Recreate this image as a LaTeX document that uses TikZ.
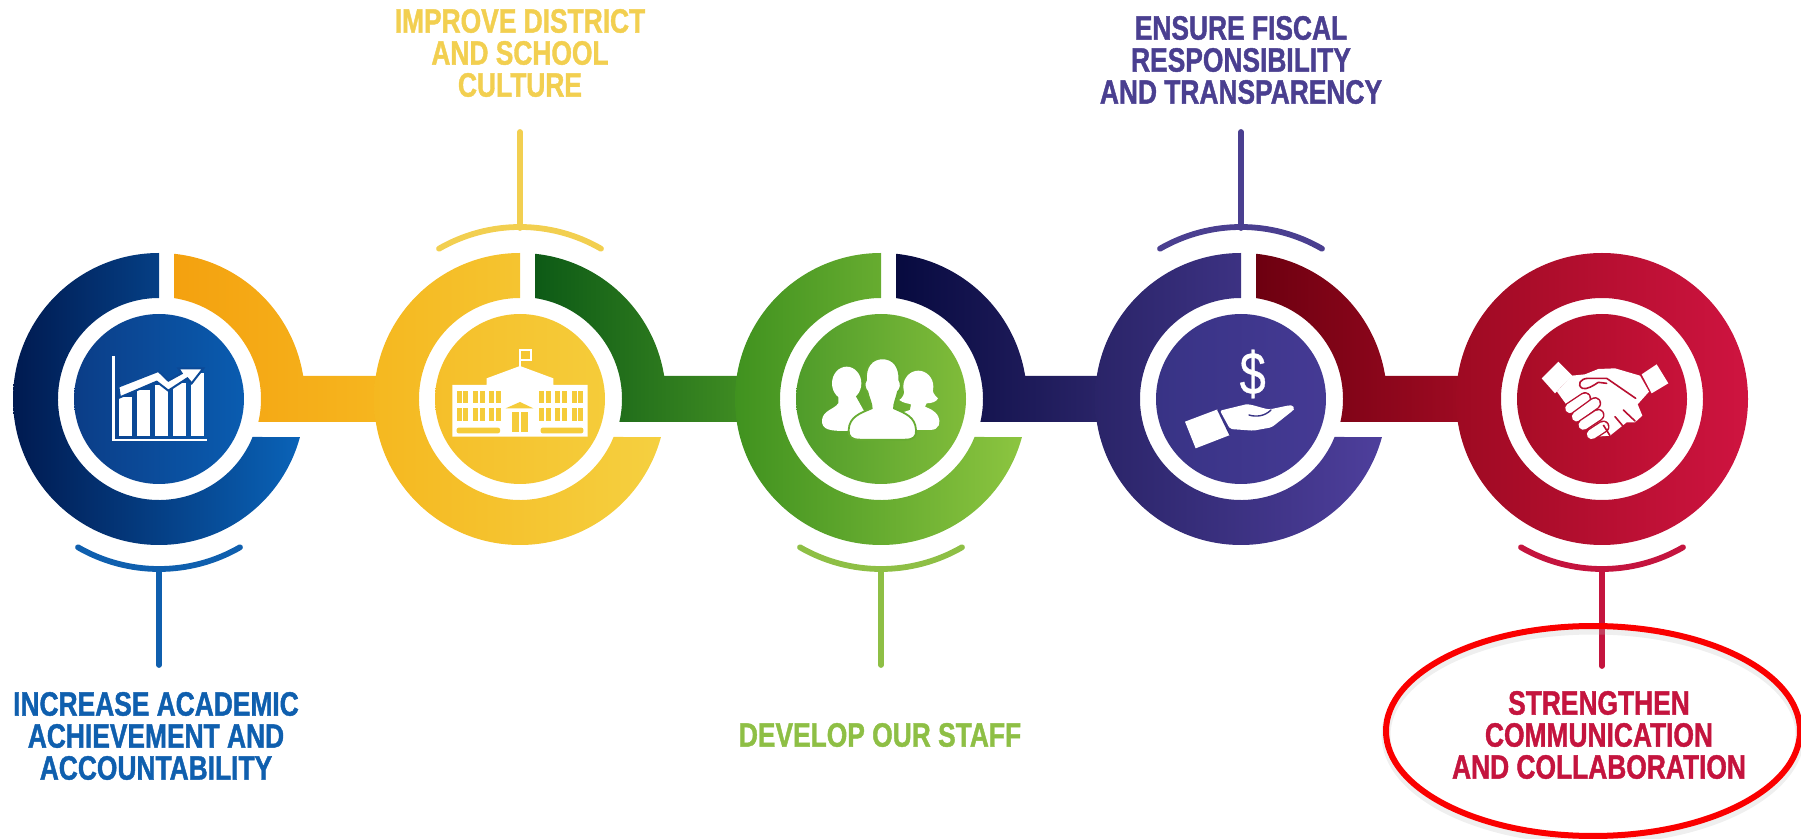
\documentclass[tikz,border=0pt]{standalone}
\usepackage{fontspec}
\newfontfamily\lab[FakeStretch=0.78,FakeBold=1.2]{Liberation Sans Bold}
\newfontfamily\dol[FakeStretch=0.78,FakeBold=0.6]{Liberation Sans}
\setmainfont{Liberation Sans}
\definecolor{tblue}{HTML}{0F5FAE}
\definecolor{tyellow}{HTML}{F2CF50}
\definecolor{tgreen}{HTML}{8EBF45}
\definecolor{tpurple}{HTML}{4A3F90}
\definecolor{tred}{HTML}{C4143E}
\definecolor{ringred}{HTML}{FA0000}
\definecolor{aL}{HTML}{001A50}\definecolor{aR}{HTML}{0A63B8}\definecolor{aDL}{HTML}{0B3D87}\definecolor{aDR}{HTML}{0A5CB0}
\definecolor{abL}{HTML}{F4A10F}\definecolor{abR}{HTML}{F6B61F}
\definecolor{bL}{HTML}{F5B820}\definecolor{bR}{HTML}{F5D040}\definecolor{bDL}{HTML}{F5BF2A}\definecolor{bDR}{HTML}{F5CC3A}
\definecolor{bbL}{HTML}{0D5A16}\definecolor{bbR}{HTML}{3F8C22}
\definecolor{cL}{HTML}{40921F}\definecolor{cR}{HTML}{8CC540}\definecolor{cDL}{HTML}{4F9C2A}\definecolor{cDR}{HTML}{80BC3A}
\definecolor{cbL}{HTML}{070A3F}\definecolor{cbR}{HTML}{2A2468}
\definecolor{dL}{HTML}{2A2468}\definecolor{dR}{HTML}{4E3F9C}\definecolor{dDL}{HTML}{383385}\definecolor{dDR}{HTML}{453A94}
\definecolor{dbL}{HTML}{6D0010}\definecolor{dbR}{HTML}{9E0A22}
\definecolor{eL}{HTML}{9E0A22}\definecolor{eR}{HTML}{CF1440}\definecolor{eDL}{HTML}{A80C26}\definecolor{eDR}{HTML}{C8123A}
\tikzset{
  lab/.style={align=center,font=\lab\fontsize{16.9}{16}\selectfont,inner sep=0pt},
  stem/.style={line width=2.9pt,line cap=round},
}
\newcommand\cring[5]{%
  \shade[left color=#2,right color=#3] (#1,253) arc[start angle=270,end angle=15.1,radius=146]
    -- ([shift={(#1,399)}]22.1:101) arc[start angle=22.1,end angle=270,radius=101] -- cycle;
  \shade[left color=#4,right color=#5] (#1,399) circle[radius=85];
}
\newcommand\bridge[3]{%
  \shade[left color=#2,right color=#3] ([shift={(#1,399)}]-84.1:146) arc[start angle=-84.1,end angle=-9.07,radius=146]
    -- ++(78,0) -- ++(0,46) -- ([shift={(#1,399)}]13.03:102) arc[start angle=13.03,end angle=-81.5,radius=102] -- cycle;
}
\newcommand\toparc[2]{\draw[#2,stem] ([shift={(#1,389)}]240:162) arc[start angle=240,end angle=300,radius=162];}
\newcommand\botarc[2]{\draw[#2,stem] ([shift={(#1,407)}]60:162) arc[start angle=60,end angle=120,radius=162];}
\begin{document}
\begin{tikzpicture}[x=.5pt,y=.5pt,yscale=-1]
\useasboundingbox (0,0) rectangle (1801,839);
% bridges first, rings over them
\bridge{159}{abL}{abR}
\bridge{520}{bbL}{bbR}
\bridge{881}{cbL}{cbR}
\bridge{1241}{dbL}{dbR}
\cring{159}{aL}{aR}{aDL}{aDR}
\cring{520}{bL}{bR}{bDL}{bDR}
\cring{881}{cL}{cR}{cDL}{cDR}
\cring{1241}{dL}{dR}{dDL}{dDR}
% last ring is closed
\shade[left color=eL,right color=eR,even odd rule] (1602,399) circle[radius=146] (1602,399) circle[radius=101];
\shade[left color=eDL,right color=eDR] (1602,399) circle[radius=85];
% labels
\node[lab,text=tblue] (lA) at (156,736) {INCREASE ACADEMIC\\ACHIEVEMENT AND\\ACCOUNTABILITY};
\node[lab,text=tyellow] (lB) at (520,53) {IMPROVE DISTRICT\\AND SCHOOL\\CULTURE};
\node[lab,text=tgreen] (lC) at (880,735) {DEVELOP OUR STAFF};
\node[lab,text=tpurple] (lD) at (1241,60) {ENSURE FISCAL\\RESPONSIBILITY\\AND TRANSPARENCY};
\node[lab,text=tred] (lE) at (1599,735) {STRENGTHEN\\COMMUNICATION\\AND COLLABORATION};
% arcs and stems
\botarc{159}{tblue}\toparc{520}{tyellow}\botarc{881}{tgreen}\toparc{1241}{tpurple}\botarc{1602}{tred}
\coordinate (sA0) at (159,569);\coordinate (sA1) at (159,665);
\coordinate (sB0) at (520,228);\coordinate (sB1) at (520,132);
\coordinate (sC0) at (881,569);\coordinate (sC1) at (881,665);
\coordinate (sD0) at (1241,228);\coordinate (sD1) at (1241,132);
\coordinate (sE0) at (1602,569);\coordinate (sE1) at (1602,666);
\draw[stem,tblue] (sA0)--(sA1);
\draw[stem,tyellow] (sB0)--(sB1);
\draw[stem,tgreen] (sC0)--(sC1);
\draw[stem,tpurple] (sD0)--(sD1);
\draw[stem,tred] (sE0)--(sE1);
% chart icon
\begin{scope}[shift={(100,340)},scale=1/3]
  \draw[white,line width=1.2pt] (40,48)--(40,300)--(320,300);
  \fill[white] (57,172) rectangle (97,287);
  \fill[white] (110,150) rectangle (150,287);
  \fill[white] (165,135) rectangle (205,287);
  \fill[white] (218,130) rectangle (258,287);
  \fill[white] (272,100) rectangle (312,287);
  \filldraw[fill=white,draw=aDL!60!aDR,line width=1pt,line join=miter]
    (55,140)--(175,93)--(205,122)--(245,100)--(235,85)--(310,85)--(275,130)--(262,115)--(205,152)--(170,125)--(60,172)--cycle;
\end{scope}
% school icon
\begin{scope}[shift={(445,340)},scale=1/3]
  \fill[white] (22,135)--(125,135)--(125,115)--(225,78)--(325,115)--(325,135)--(428,135)--(428,290)--(22,290)--cycle;
  \draw[white,line width=.8pt] (225,80)--(225,30)--(258,30)--(258,60)--(225,60);
  \foreach \xx in {35,85,133,283,330,380}{
    \foreach \yy in {152,205}{
      \fill[bDR] (\xx,\yy) rectangle ++(15,37);
      \fill[bDR] (\xx+20,\yy) rectangle ++(15,37);
    }}
  \fill[bDR,rounded corners=1pt] (35,263) rectangle (165,280);
  \fill[bDR,rounded corners=1pt] (287,263) rectangle (415,280);
  \fill[bDR] (182,205)--(225,186)--(265,205)--cycle;
  \fill[bDR] (200,215) rectangle (221,275);
  \fill[bDR] (227,215) rectangle (248,275);
\end{scope}
% people icon
\begin{scope}[shift={(810,345)},scale=1/3]
  \fill[white] (110,115) ellipse[x radius=44,y radius=50];
  \fill[white] (85,150)--(85,175) .. controls (70,195) and (40,195) .. (36,225)
     .. controls (34,255) and (60,258) .. (110,258) -- (180,230) -- (135,150) --cycle;
  \fill[white] (325,125) ellipse[x radius=45,y radius=48];
  \fill[white] (283,130) .. controls (285,150) and (275,160) .. (268,165) .. controls (280,175) and (295,175) .. (303,178)
    -- (300,195) -- (270,205) -- (300,255) -- (360,255) .. controls (390,255) and (392,230) .. (385,215)
    .. controls (375,195) and (355,190) .. (345,185) -- (350,175) .. controls (365,175) and (380,170) .. (384,160)
    .. controls (372,150) and (366,140) .. (368,125) --cycle;
  \filldraw[fill=white,draw=cDL!50!cDR,line width=.9pt]
    (218,40) .. controls (185,40) and (165,65) .. (168,105) .. controls (160,115) and (165,135) .. (172,140)
    .. controls (178,165) and (185,175) .. (185,190) .. controls (150,205) and (118,215) .. (116,255)
    .. controls (115,275) and (125,284) .. (150,284) -- (285,284) .. controls (310,284) and (320,275) .. (318,255)
    .. controls (316,215) and (285,205) .. (252,190) .. controls (252,175) and (258,165) .. (264,140)
    .. controls (272,135) and (276,115) .. (268,105) .. controls (270,65) and (250,40) .. (218,40) --cycle;
\end{scope}
% dollar and hand icon
\node[text=white,font=\dol\fontsize{30}{30}\selectfont,inner sep=0pt] (dollar) at (1252.7,374) {\$};
\begin{scope}[shift={(1175,340)},scale=1/3]
  \fill[white,rounded corners=1pt] (135,212)--(205,195) .. controls (225,190) and (260,205) .. (285,208)
    --(342,196) .. controls (355,196) and (360,205) .. (352,213) -- (290,262) -- (235,272) -- (165,267) --cycle;
  \fill[white] (30,245)--(128,208)--(165,285)--(62,325)--cycle;
  \draw[dDL,line width=.7pt,line cap=round] (222,225) .. controls (245,232) and (270,228) .. (288,210);
  \draw[dDL,line width=.7pt] (128,208)--(165,285);
\end{scope}
% handshake icon
\begin{scope}[shift={(1535,345)},scale=1/3]
  \fill[white] (20,100)--(70,50)--(112,92)--(60,145)--cycle;
  \fill[white] (320,88)--(365,58)--(400,115)--(350,145)--cycle;
  \fill[white] (66,140)--(110,92)--(150,88)--(190,72)--(240,70)--(315,92)--(342,140)--(308,178)
     --(322,212)--(300,232)--(275,232)--(250,252)--(225,272)--(185,275)--(120,200)--(95,180)--cycle;
  \foreach \ax/\ay/\bx/\by in {105/190/150/160,125/215/180/175,145/240/190/210,170/268/205/245}{
     \draw[eDL!50!eDR,line width=6.2pt,line cap=round] (\ax,\ay)--(\bx,\by);
     \draw[white,line width=4.8pt,line cap=round] (\ax,\ay)--(\bx,\by);
  }
  \draw[eDL!50!eDR,line width=.8pt,line cap=round,line join=round] (302,160)--(215,100)--(160,100)
     .. controls (135,100) and (125,120) .. (142,130) .. controls (155,135) and (175,122) .. (190,112)--(215,115);
  \draw[eDL!50!eDR,line width=.8pt,line cap=round] (240,215)--(268,248);
  \draw[eDL!50!eDR,line width=.8pt,line cap=round] (265,195)--(300,228);
  \draw[eDL!50!eDR,line width=.8pt] (205,240)--(225,272);
\end{scope}
% hand-drawn highlight
\draw[black!25,opacity=.25,line width=4.5pt] (1593,735) ellipse[x radius=207,y radius=105];
\draw[ringred,line width=3pt] (1593,731) ellipse[x radius=207,y radius=105];
\end{tikzpicture}
\end{document}
